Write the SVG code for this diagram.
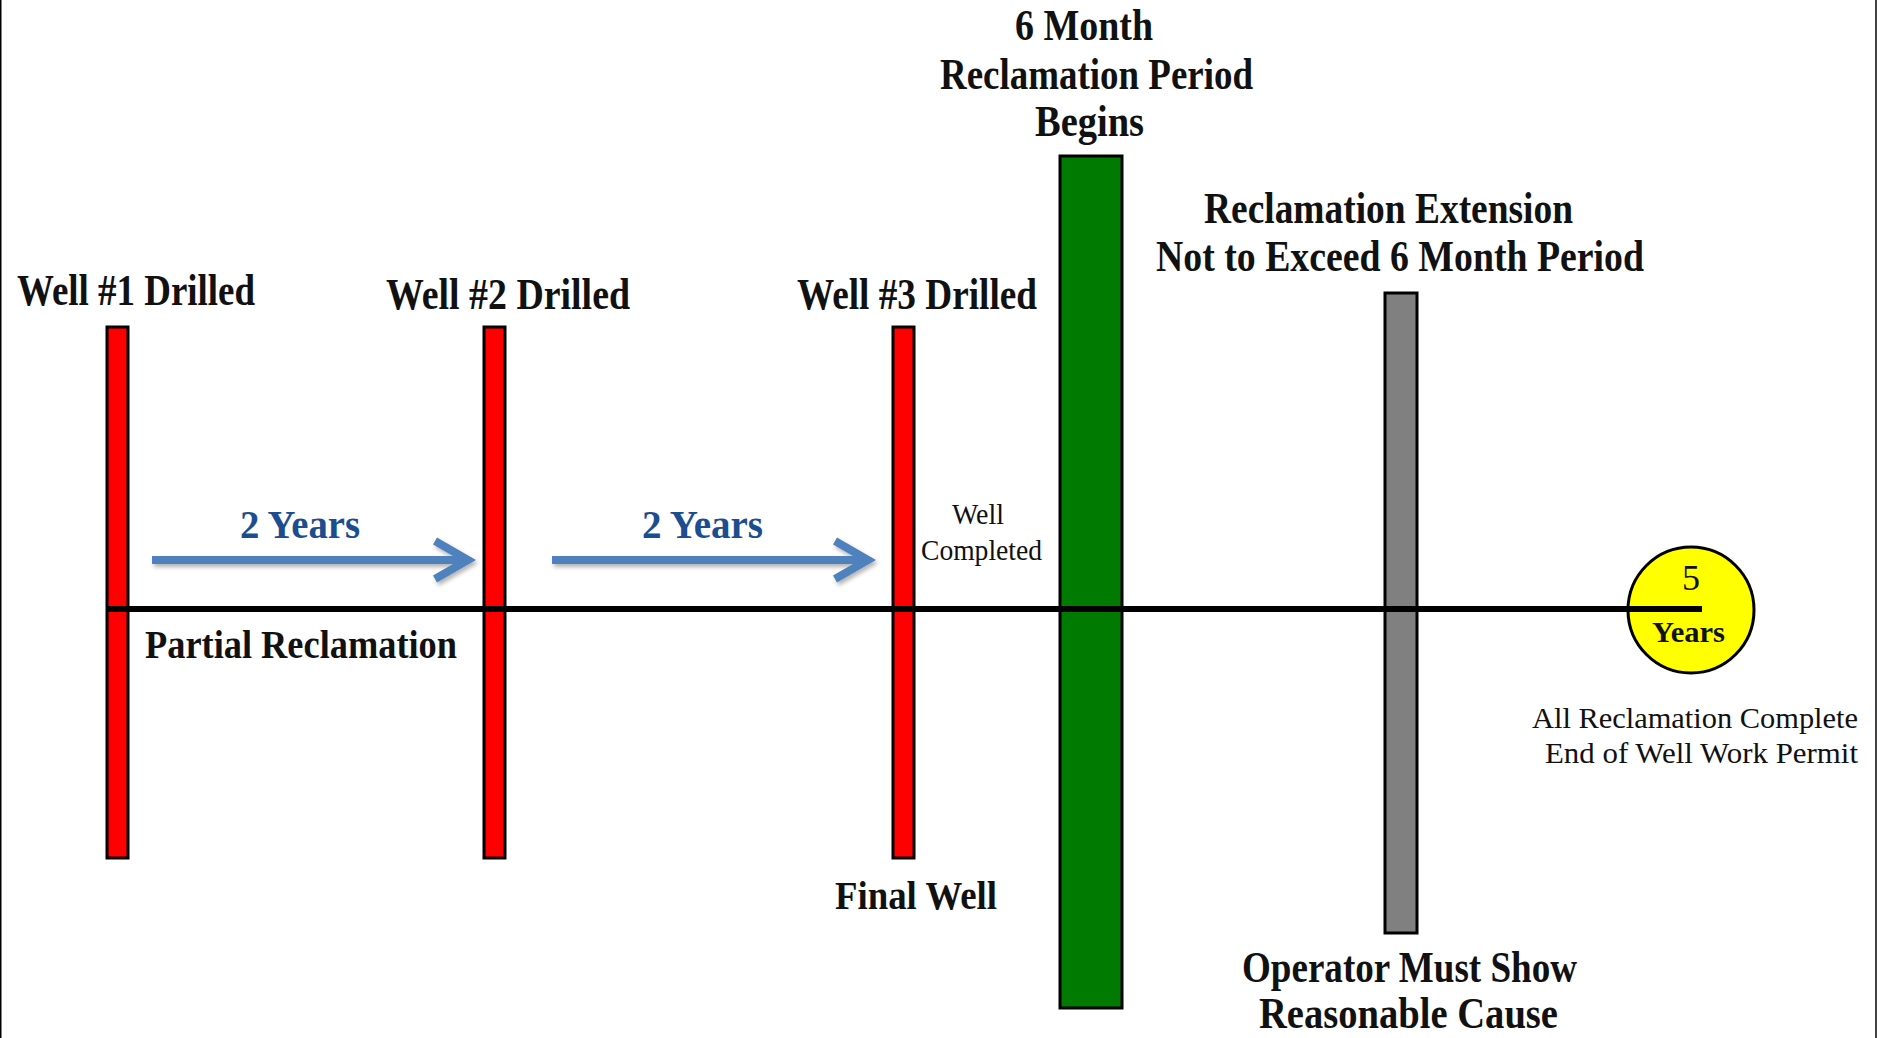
<svg xmlns="http://www.w3.org/2000/svg" width="1877" height="1038" viewBox="0 0 1877 1038">
<style>
  text { font-family: "Liberation Serif", "Times New Roman", serif; fill: #111; }
  .big { font-size: 44px; font-weight: bold; }
  .mid { font-size: 40px; font-weight: bold; }
  .blue { font-size: 40px; font-weight: bold; fill: #1B4D8F; }
  .small { font-size: 29px; }
  .bar { stroke: #000; stroke-width: 3; }
  .red { fill: #FF0000; }
  .arrow { fill: none; stroke: #4F81BD; stroke-width: 8; stroke-linejoin: miter; }
</style>
<defs>
  <filter id="shadow" x="-10%" y="-50%" width="120%" height="200%">
    <feDropShadow dx="2" dy="3" stdDeviation="2" flood-color="#000" flood-opacity="0.3"/>
  </filter>
</defs>
<rect x="0" y="0" width="1877" height="1038" fill="#fff"/>
<line x1="0.75" y1="0" x2="0.75" y2="1038" stroke="#000" stroke-width="1.5"/>
<line x1="1876" y1="0" x2="1876" y2="1038" stroke="#000" stroke-width="1.5"/>

<g id="well1">
  <rect class="bar red" x="107" y="327" width="21" height="531"/>
  <text class="big" x="17" y="305" textLength="238" lengthAdjust="spacingAndGlyphs">Well #1 Drilled</text>
</g>
<g id="well2">
  <rect class="bar red" x="484" y="327" width="21" height="531"/>
  <text class="big" x="386" y="309" textLength="244" lengthAdjust="spacingAndGlyphs">Well #2 Drilled</text>
</g>
<g id="well3">
  <rect class="bar red" x="893" y="327" width="21" height="531"/>
  <text class="big" x="797" y="309" textLength="240" lengthAdjust="spacingAndGlyphs">Well #3 Drilled</text>
  <text class="small" x="952" y="524" textLength="52" lengthAdjust="spacingAndGlyphs">Well</text>
  <text class="small" x="921" y="560" textLength="121" lengthAdjust="spacingAndGlyphs">Completed</text>
  <text class="mid" x="835" y="909" textLength="162" lengthAdjust="spacingAndGlyphs">Final Well</text>
</g>
<g id="reclamation-begins">
  <rect class="bar" fill="#007A00" x="1060" y="156" width="62" height="852"/>
  <text class="big" x="1015" y="40" textLength="138" lengthAdjust="spacingAndGlyphs">6 Month</text>
  <text class="big" x="940" y="89" textLength="313" lengthAdjust="spacingAndGlyphs">Reclamation Period</text>
  <text class="big" x="1035" y="136" textLength="109" lengthAdjust="spacingAndGlyphs">Begins</text>
</g>
<g id="extension">
  <rect class="bar" fill="#808080" stroke="#333" x="1385" y="293" width="32" height="640"/>
  <text class="big" x="1204" y="223" textLength="369" lengthAdjust="spacingAndGlyphs">Reclamation Extension</text>
  <text class="big" x="1156" y="271" textLength="488" lengthAdjust="spacingAndGlyphs">Not to Exceed 6 Month Period</text>
  <text class="big" x="1242" y="982" textLength="335" lengthAdjust="spacingAndGlyphs">Operator Must Show</text>
  <text class="big" x="1259" y="1028" textLength="299" lengthAdjust="spacingAndGlyphs">Reasonable Cause</text>
</g>
<g id="five-years">
  <circle cx="1691" cy="610" r="63" fill="#FFFF00" stroke="#000" stroke-width="3"/>
  <text x="1691" y="590" font-size="36" text-anchor="middle">5</text>
  <text x="1652" y="642" font-size="30" font-weight="bold" textLength="73" lengthAdjust="spacingAndGlyphs">Years</text>
  <text x="1532" y="728" font-size="30" textLength="326" lengthAdjust="spacingAndGlyphs">All Reclamation Complete</text>
  <text x="1545" y="763" font-size="30" textLength="313" lengthAdjust="spacingAndGlyphs">End of Well Work Permit</text>
</g>
<g id="partial">
  <text class="mid" x="145" y="658" textLength="312" lengthAdjust="spacingAndGlyphs">Partial Reclamation</text>
</g>

<g id="connectors">
  <line x1="106" y1="609" x2="1702" y2="609" stroke="#000" stroke-width="6"/>
  <path class="arrow" filter="url(#shadow)" d="M152,560 H466 M435,541 L468,560 L435,579"/>
  <path class="arrow" filter="url(#shadow)" d="M552,560 H866 M835,541 L868,560 L835,579"/>
  <text class="blue" x="240" y="538" textLength="120" lengthAdjust="spacingAndGlyphs">2 Years</text>
  <text class="blue" x="642" y="538" textLength="121" lengthAdjust="spacingAndGlyphs">2 Years</text>
</g>
</svg>
